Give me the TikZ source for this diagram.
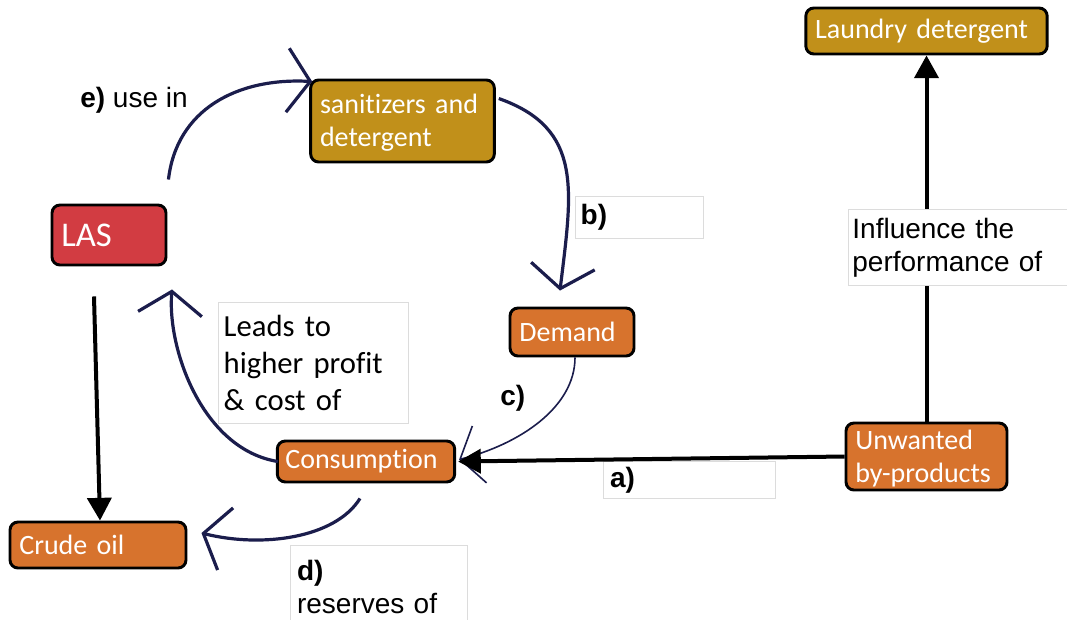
\documentclass[tikz,border=0pt]{standalone}
\usepackage{fontspec}
\setmainfont{Carlito}[RawFeature=-liga]
\newfontfamily\arialfont{Liberation Sans}
\usetikzlibrary{arrows.meta,calc}

\definecolor{boxgold}{HTML}{C1901A}
\definecolor{boxorange}{HTML}{D7732D}
\definecolor{boxred}{HTML}{D23C42}
\definecolor{cyclenavy}{HTML}{1B1D4C}
\definecolor{lblframe}{HTML}{DCDCDC}

\begin{document}
\begin{tikzpicture}[x=0.75pt,y=-0.75pt,
  conceptbox/.style={draw=black, line width=2.2pt, rounded corners=6pt,
    text=white, align=left, inner xsep=7pt, inner ysep=0pt,
    font=\fontsize{21}{24.75}\selectfont},
  lblbox/.style={draw=lblframe, line width=0.6pt, fill=white, align=left,
    inner xsep=4pt, inner ysep=0pt},
  armfont/.style={font=\arialfont\fontsize{21}{24.75}\selectfont},
  cycle/.style={draw=cyclenavy, line width=2.4pt,
    -{Straight Barb[length=17pt,width=48pt]}},
  thincycle/.style={draw=cyclenavy, line width=1.2pt,
    -{Straight Barb[length=15pt,width=44pt]}},
  solidlink/.style={draw=black, line width=3pt,
    -{Triangle[length=17pt,width=18pt]}}
]
\useasboundingbox (0,0) rectangle (1067,619);

% concept boxes
\node[conceptbox, fill=boxgold, text width=167pt, minimum height=34.5pt]
  (laundry) at (926.5,31) {Laundry detergent};
\node[conceptbox, fill=boxgold, text width=123.75pt, minimum height=61.5pt]
  (san) at (402.5,121) {\strut sanitizers and\\detergent};
\node[conceptbox, fill=boxred, text width=71.5pt, minimum height=45pt,
  font=\fontsize{26}{30}\selectfont]
  (las) at (109,235) {LAS};
\node[conceptbox, fill=boxorange, text width=79pt, minimum height=36pt]
  (demand) at (572,332) {Demand};
\node[conceptbox, fill=boxorange, text width=121pt, minimum height=30.75pt,
  inner xsep=6pt]
  (cons) at (366,461.5) {Consumption};
\node[conceptbox, fill=boxorange, text width=106.75pt, minimum height=50.25pt]
  (unw) at (926.5,456.5) {\strut Unwanted\\by-products};
\node[conceptbox, fill=boxorange, text width=118pt, minimum height=34.5pt]
  (crude) at (98,545) {Crude oil};

% link labels placed under the connectors
\node[lblbox, anchor=north west, text width=88pt, minimum height=31.5pt,
  armfont] (lblb) at (575,196) {\textbf{b)}};
\node[lblbox, anchor=north west, text width=119pt, minimum height=27.75pt,
  armfont, inner xsep=5pt] (lbla) at (603,461) {\textbf{a)}};
\node[lblbox, anchor=north west, text width=134.5pt, minimum height=90.75pt,
  font=\fontsize{23}{28}\selectfont] (lblleads) at (218,302)
  {Leads to\\higher profit\\\& cost of};
\node[lblbox, anchor=north west, text width=122.75pt, minimum height=62pt,
  armfont, inner xsep=5pt] (lbld) at (290,545) {\textbf{d)}\\reserves of};
\node[armfont, anchor=west, inner sep=0pt] (lble) at (80,100)
  {\textbf{e)} use in};
\node[armfont, anchor=west, inner sep=0pt] (lblc) at (500,398) {\textbf{c)}};

% the cycle
\draw[cycle] ($(las.north east)+(1,-24)$)
  .. controls +(8,-70) and +(-75,-4) .. ($(san.north west)+(3,3)$);
\draw[cycle] ($(san.north east)+(3,20)$)
  .. controls +(85,30) and +(12,-100) .. ($(demand.north)+(-12,-16)$);
\draw[thincycle] ($(demand.south)+(3,0)$)
  .. controls +(0,50) and +(60,-15) .. ($(cons.east)+(3,-2)$);
\draw[cycle] ($(cons.west)+(2,0)$)
  .. controls +(-75,-12) and +(-5,60) .. ($(las.south)+(63,23)$);
\draw[cycle] ($(cons.south)+(-6,15)$)
  .. controls +(-25,40) and +(60,15) .. ($(crude.east)+(14,-12)$);

% straight links
\draw[solidlink] ($(las.south)+(-15,30)$) -- ($(crude.north)+(2,0)$);
\draw[solidlink] (unw.west) -- ($(cons.east)+(2,0)$);
\draw[solidlink] (unw.north) -- (laundry.south);

% label set over the vertical link
\node[lblbox, anchor=north west, text width=158pt, minimum height=57pt,
  armfont, inner xsep=3pt] (lblinf) at (848,209)
  {Influence the\\performance of};
\end{tikzpicture}
\end{document}
